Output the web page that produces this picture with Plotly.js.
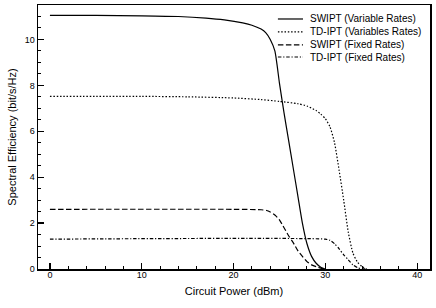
<!DOCTYPE html>
<html>
<head>
<meta charset="utf-8">
<script src="https://cdn.plot.ly/plotly-3.0.1.min.js"></script>
<style>html,body{margin:0;padding:0;background:#fff}#chart{width:436px;height:308px}</style>
</head>
<body>
<div id="chart"></div>
<script>
const seriesNames = ["SWIPT (Variable Rates)", "TD-IPT (Variables Rates)", "SWIPT (Fixed Rates)", "TD-IPT (Fixed Rates)"];

const swiptVarX = [0, 5, 10, 14, 17, 19, 21, 22, 23, 23.5, 24, 24.5, 25, 25.5, 26, 26.5, 27, 27.5, 28, 28.5, 29, 29.5, 30];
const swiptVarY = [11.05, 11.05, 11.03, 11.0, 10.93, 10.85, 10.72, 10.62, 10.45, 10.3, 10.0, 9.5, 8.1, 6.8, 5.6, 4.4, 3.2, 2.0, 1.1, 0.55, 0.25, 0.08, 0.0];

const tdVarX = [0, 10, 15, 20, 23, 25, 27, 28, 29, 29.5, 30, 30.5, 31, 31.5, 32, 32.5, 33, 33.5, 34, 34.5];
const tdVarY = [7.52, 7.52, 7.5, 7.45, 7.38, 7.3, 7.2, 7.1, 6.9, 6.75, 6.55, 6.2, 5.5, 4.3, 3.0, 1.6, 0.7, 0.3, 0.1, 0.0];

const swiptFixX = [0, 20, 23, 23.6, 24, 24.5, 25, 25.5, 26, 26.5, 27, 27.5, 28, 28.5, 29, 29.5, 30];
const swiptFixY = [2.6, 2.6, 2.58, 2.55, 2.48, 2.35, 2.14, 1.8, 1.45, 1.15, 0.8, 0.55, 0.32, 0.18, 0.1, 0.04, 0.0];

const tdFixX = [0, 30, 30.5, 31, 31.5, 32, 32.5, 33, 33.5, 34, 34.5];
const tdFixY = [1.3, 1.3, 1.25, 1.1, 0.88, 0.62, 0.4, 0.18, 0.06, 0.01, 0.0];

const xTicks = [0, 10, 20, 30, 40];
const yTicks = [0, 2, 4, 6, 8, 10];

const dashes = ["solid", "1.5px,1.8px", "5.5px,2.5px", "3.5px,1.8px,1.2px,1.8px"];
const xs = [swiptVarX, tdVarX, swiptFixX, tdFixX];
const ys = [swiptVarY, tdVarY, swiptFixY, tdFixY];

const traces = seriesNames.map((n, i) => ({
  type: "scatter", mode: "lines", name: n, showlegend: false,
  x: xs[i], y: ys[i],
  line: {color: "#000", width: 1.2, dash: dashes[i], shape: "spline", smoothing: 0.6}
}));

const font = {family: "Liberation Sans, Arial, sans-serif", color: "#000"};

// hand-drawn legend (compact row spacing, as in the reference)
const legRowsY = [0.947, 0.898, 0.849, 0.803];
const legLineX0 = 0.612, legLineX1 = 0.676, legTextX = 0.69;
const shapes = seriesNames.map((n, i) => ({
  type: "line", xref: "paper", yref: "paper",
  x0: legLineX0, x1: legLineX1, y0: legRowsY[i], y1: legRowsY[i],
  line: {color: "#000", width: 1.2, dash: dashes[i]}
}));
const annotations = seriesNames.map((n, i) => ({
  xref: "paper", yref: "paper", x: legTextX, y: legRowsY[i],
  xanchor: "left", yanchor: "middle", showarrow: false, text: n,
  font: Object.assign({}, font, {size: 10})
}));

const layout = {
  width: 436, height: 308,
  margin: {l: 38, r: 6, t: 5, b: 39},
  paper_bgcolor: "#fff", plot_bgcolor: "#fff",
  font: Object.assign({size: 9}, font),
  showlegend: false,
  shapes: shapes,
  annotations: annotations,
  xaxis: {
    range: [-1.3, 41.4], tickvals: xTicks, ticktext: xTicks.map(String),
    ticks: "inside", ticklen: 6, tickwidth: 1.2, tickcolor: "#000",
    ticklabelstandoff: -3,
    minor: {dtick: 2, tick0: 0, ticks: "inside", ticklen: 3, tickwidth: 1, tickcolor: "#000"},
    showline: true, linecolor: "#000", linewidth: 1.5, mirror: true,
    showgrid: false, zeroline: false,
    tickfont: Object.assign({}, font, {size: 9}),
    title: {text: "Circuit Power (dBm)", font: Object.assign({}, font, {size: 11}), standoff: 8}
  },
  yaxis: {
    range: [0, 11.5], tickvals: yTicks, ticktext: yTicks.map(String),
    ticks: "inside", ticklen: 6, tickwidth: 1.2, tickcolor: "#000",
    minor: {dtick: 0.5, tick0: 0, ticks: "inside", ticklen: 3, tickwidth: 1, tickcolor: "#000"},
    showline: true, linecolor: "#000", linewidth: 1.5, mirror: true,
    showgrid: false, zeroline: false,
    tickfont: Object.assign({}, font, {size: 9}),
    title: {text: "Spectral Efficiency (bit/s/Hz)", font: Object.assign({}, font, {size: 11}), standoff: 6}
  }
};

Plotly.newPlot("chart", traces, layout, {staticPlot: true, displayModeBar: false});
</script>
</body>
</html>
